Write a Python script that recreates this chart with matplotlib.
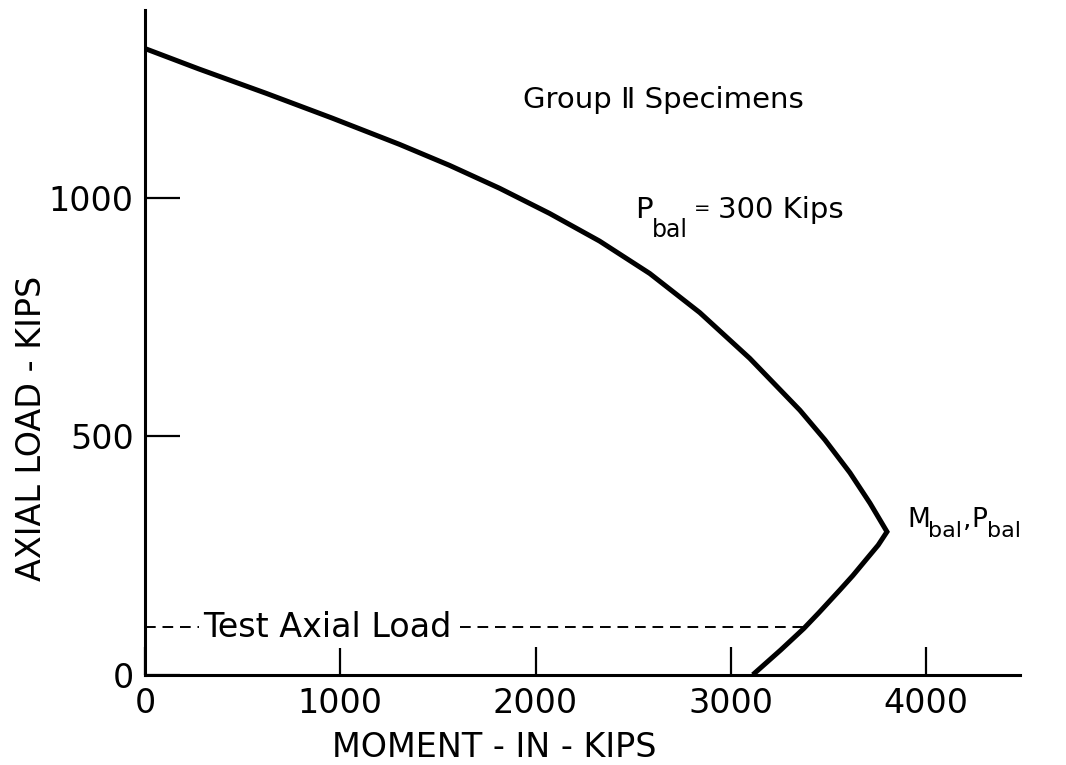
import matplotlib.pyplot as plt

# Interaction diagram, Group II specimens (moment in inch-kips, axial load in kips)
m_bal = 3800
p_bal = 300

# compression-controlled branch, from pure axial load down to the balanced point
upper_moment = [0, 277, 621, 959, 1303, 1559, 1815, 2072, 2328, 2585,
                2841, 3097, 3354, 3482, 3610, 3713]
upper_load = [1314, 1271, 1220, 1168, 1113, 1069, 1021, 968, 910, 842,
              760, 664, 555, 493, 424, 360]

# tension-controlled branch, from the balanced point down to pure bending
lower_moment = [3755, 3700, 3625, 3559, 3451, 3374, 3256, 3113]
lower_load = [272, 245, 208, 178, 130, 97, 52, 0]

test_load = 100
test_load_end = 3372

x_ticks = [0, 1000, 2000, 3000, 4000]
y_ticks = [0, 500, 1000]

FONT = ["DejaVu Sans", "Noto Sans CJK SC"]
plt.rcParams["font.family"] = FONT


def plot_interaction(out_file):
    fig = plt.figure(figsize=(10.66, 7.65), dpi=100)
    ax = fig.add_axes([0.136, 0.118, 0.821, 0.869])

    moment = upper_moment + [m_bal] + lower_moment
    load = upper_load + [p_bal] + lower_load
    ax.plot(moment, load, color="black", lw=3.6, solid_joinstyle="miter",
            solid_capstyle="butt", zorder=3)

    # test axial load line with its label sitting on it
    ax.plot([0, test_load_end], [test_load, test_load], color="black", lw=1.4,
            dashes=(5.5, 3.5), zorder=2)
    ax.text(935, test_load, "Test Axial Load", fontsize=24, ha="center", va="center",
            bbox=dict(facecolor="white", edgecolor="none", pad=3), zorder=2.5)

    ax.text(1938, 1207, "Group \u2161 Specimens", fontsize=21, ha="left", va="center")

    # P_bal = 300 Kips, subscript drawn almost full size
    ax.text(2508, 959, "P", fontsize=21, ha="left", va="baseline")
    ax.text(2597, 919, "bal", fontsize=17, ha="left", va="baseline")
    ax.text(2812, 967, "=", fontsize=14, ha="left", va="baseline")
    ax.text(2933, 959, "300 Kips", fontsize=21, ha="left", va="baseline")

    # M_bal, P_bal next to the balanced point
    ax.text(3903, 311, "M", fontsize=19, ha="left", va="baseline")
    ax.text(4010, 290, "bal", fontsize=16, ha="left", va="baseline")
    ax.text(4190, 311, ",", fontsize=19, ha="left", va="baseline")
    ax.text(4231, 311, "P", fontsize=19, ha="left", va="baseline")
    ax.text(4313, 290, "bal", fontsize=16, ha="left", va="baseline")

    ax.set_xlim(0, 4482)
    ax.set_ylim(0, 1395)
    ax.set_xticks(x_ticks)
    ax.set_yticks(y_ticks)
    ax.tick_params(axis="both", direction="in", width=1.6, labelsize=24)
    ax.tick_params(axis="x", length=20, pad=9)
    ax.tick_params(axis="y", length=25, pad=8)

    for side in ["top", "right"]:
        ax.spines[side].set_visible(False)
    for side in ["left", "bottom"]:
        ax.spines[side].set_linewidth(2.2)

    ax.set_xlabel("MOMENT - IN - KIPS", fontsize=24)
    ax.set_ylabel("AXIAL LOAD - KIPS", fontsize=24)
    ax.xaxis.set_label_coords(0.399, -0.084)
    ax.yaxis.set_label_coords(-0.111, 0.371)

    fig.savefig(out_file, dpi=100)
    plt.close(fig)


if __name__ == "__main__":
    plot_interaction("out.png")
